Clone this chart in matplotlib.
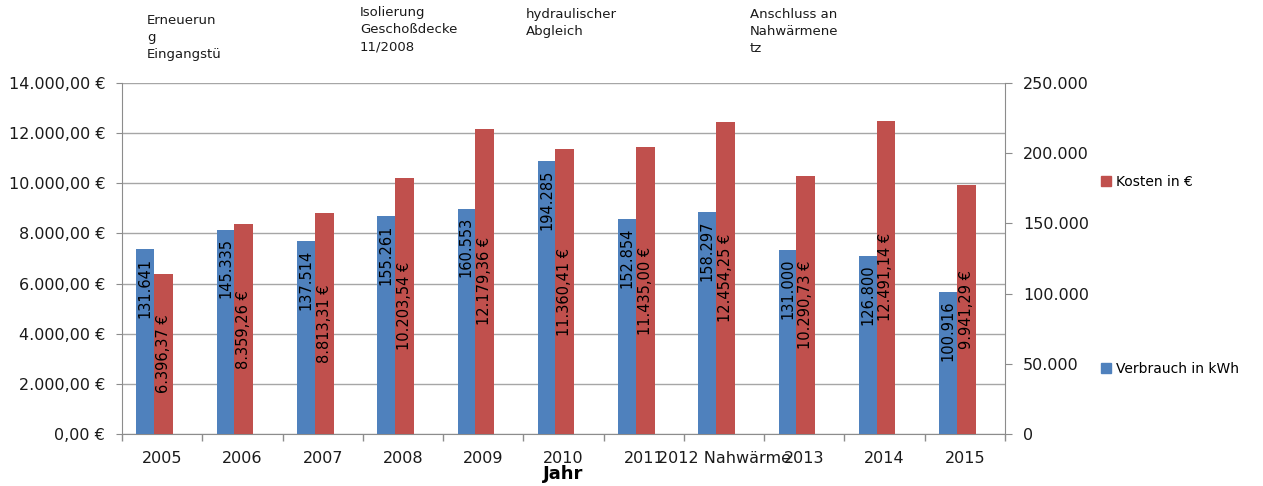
import matplotlib
matplotlib.use("Agg")
import matplotlib.pyplot as plt
import numpy as np
from matplotlib.ticker import FuncFormatter, FixedLocator
from matplotlib.patches import Patch

categories = ["2005", "2006", "2007", "2008", "2009", "2010", "2011",
              "2012 Nahwärme", "2013", "2014", "2015"]
verbrauch_kwh = [131641, 145335, 137514, 155261, 160553, 194285, 152854,
                 158297, 131000, 126800, 100916]
kosten_eur = [6396.37, 8359.26, 8813.31, 10203.54, 12179.36, 11360.41,
              11435.00, 12454.25, 10290.73, 12491.14, 9941.29]
annotations = [
    ("Erneuerun\ng\nEingangstü", 147, 14),
    ("Isolierung\nGeschoßdecke\n11/2008", 360, 6),
    ("hydraulischer\nAbgleich", 526, 8),
    ("Anschluss an\nNahwärmene\ntz", 750, 8),
]

BLUE = "#4F81BD"
RED = "#C0504D"
GRID = "#a6a6a6"
AXC = "#8c8c8c"

plt.rcParams['font.family'] = ['DejaVu Sans']

W, H = 1263, 486
fig = plt.figure(figsize=(W / 100, H / 100), dpi=100)
L, R, T, B = 122, 1005, 83, 434
ax = fig.add_axes([L / W, 1 - B / H, (R - L) / W, (B - T) / H])
ax2 = ax.twinx()


def de_eur(v):
    s = f"{v:,.2f}".replace(",", "X").replace(".", ",").replace("X", ".")
    return s + " €"


def de_int(v):
    return f"{v:,.0f}".replace(",", ".")


x = np.arange(len(categories))
bw_blue, bw_red = 0.22, 0.235
off_blue, off_red = -0.21, 0.0175

red_bars = ax.bar(x + off_red, kosten_eur, width=bw_red, color=RED, zorder=3)
blue_bars = ax2.bar(x + off_blue, verbrauch_kwh, width=bw_blue, color=BLUE, zorder=3)

ax.set_ylim(0, 14000)
ax2.set_ylim(0, 250000)
ax.set_xlim(-0.5, len(categories) - 0.5)

ax.set_yticks(np.arange(0, 14001, 2000))
ax.yaxis.set_major_formatter(FuncFormatter(lambda v, p: de_eur(v)))
ax2.set_yticks(np.arange(0, 250001, 50000))
ax2.yaxis.set_major_formatter(FuncFormatter(lambda v, p: de_int(v)))

ax.set_xticks(x)
ax.set_xticklabels(categories)
ax.xaxis.set_minor_locator(FixedLocator(np.arange(-0.5, len(categories), 1.0)))
ax.tick_params(axis='x', which='major', length=0, pad=12, labelsize=11.5, colors='#1a1a1a')
ax.tick_params(axis='x', which='minor', length=5, color=AXC, width=1)
ax.tick_params(axis='y', length=4, color=AXC, pad=8, labelsize=11.5, labelcolor='#1a1a1a')
ax2.tick_params(axis='y', length=5, color=AXC, pad=8, labelsize=11.5, labelcolor='#1a1a1a')

ax.grid(axis='y', color=GRID, linewidth=1, zorder=0)
ax.set_axisbelow(True)

for s in ['top', 'right']:
    ax.spines[s].set_visible(False)
for s in ['top', 'left', 'bottom']:
    ax2.spines[s].set_visible(False)
ax.spines['left'].set_color(AXC)
ax.spines['bottom'].set_color(AXC)
ax2.spines['right'].set_color(AXC)

# data labels
for b, v in zip(blue_bars, verbrauch_kwh):
    ax2.annotate(de_int(v), (b.get_x() + b.get_width() / 2, v),
                 xytext=(0, -6), textcoords='offset points',
                 rotation=90, ha='center', va='top', fontsize=10.5, color='black',
                 zorder=5)
for b, v in zip(red_bars, kosten_eur):
    ax.text(b.get_x() + b.get_width() / 2, v / 2, de_eur(v),
            rotation=90, ha='center', va='center', fontsize=10.5, color='black',
            zorder=5)

ax.set_xlabel("Jahr", fontsize=13, fontweight='bold')
ax.xaxis.set_label_coords(0.5, -0.088)

# legends
leg1 = fig.legend(handles=[Patch(color=RED, label="Kosten in €")],
                  loc='center left', bbox_to_anchor=(1101 / W, 1 - 182 / H),
                  frameon=False, fontsize=10, handlelength=0.75, handleheight=0.7,
                  handletextpad=0.35, borderpad=0, borderaxespad=0)
leg2 = fig.legend(handles=[Patch(color=BLUE, label="Verbrauch in kWh")],
                  loc='center left', bbox_to_anchor=(1101 / W, 1 - 369 / H),
                  frameon=False, fontsize=10, handlelength=0.75, handleheight=0.7,
                  handletextpad=0.35, borderpad=0, borderaxespad=0)

for txt, px, py in annotations:
    fig.text(px / W, 1 - py / H, txt, ha='left', va='top', fontsize=9.5,
             color='#1a1a1a', linespacing=1.4)

fig.savefig("out.png", dpi=100)
